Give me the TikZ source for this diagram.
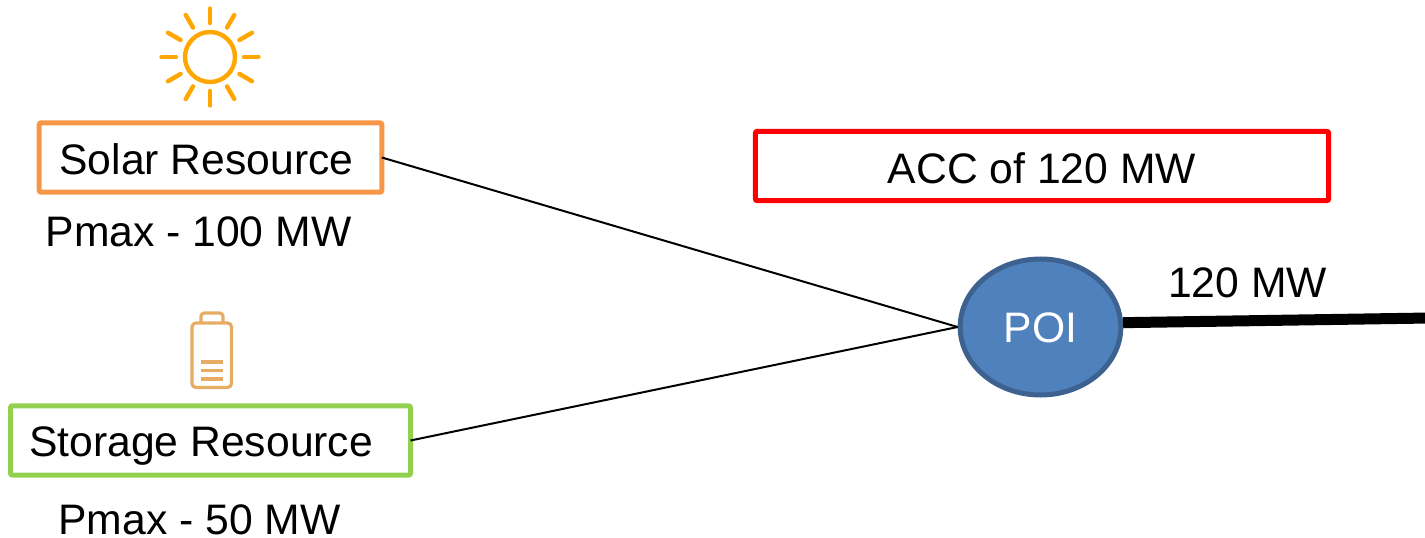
\documentclass[tikz,border=0pt]{standalone}
\usepackage{fontspec}
\setmainfont{Liberation Sans}
\definecolor{solarcol}{HTML}{F79646}
\definecolor{storagecol}{HTML}{92D050}
\definecolor{suncol}{HTML}{FFA600}
\definecolor{battcol}{HTML}{E6AC64}
\definecolor{poifill}{HTML}{4F81BD}
\definecolor{poiline}{HTML}{3E6290}
\usetikzlibrary{shapes.geometric}
\tikzset{
    resbox/.style={draw,line width=3.75pt,rounded corners=1.5pt,inner sep=0pt,outer sep=0pt,minimum height=52pt,text height=26pt,text depth=0pt},
    lbl/.style={inner sep=0pt,anchor=base},
}
\begin{document}
\begin{tikzpicture}[x=0.75pt,y=-0.75pt,font=\fontsize{32}{36}\selectfont]
    \useasboundingbox (0,0) rectangle (1425,538);

    % sun
    \begin{scope}[shift={(210,57)},draw=suncol,line cap=round,line width=3.3pt]
        \draw (0,0) circle (25);
        \foreach \ang in {0,30,...,330}
            \draw (\ang:34) -- (\ang:48.5);
    \end{scope}
    % battery
    \begin{scope}[shift={(192,313)},draw=battcol,line width=2.4pt]
        \draw[rounded corners=3pt] (0,10) rectangle (39.5,74.5);
        \draw[rounded corners=2.5pt] (9,10) -- (9,0) -- (31,0) -- (31,10);
        \draw[line width=2.6pt] (9,49) -- (31,49);
        \draw[line width=2.6pt] (9,57.5) -- (31,57.5);
        \draw[line width=2.6pt] (9,66) -- (31,66);
    \end{scope}

    \node[resbox,draw=solarcol,minimum width=257pt] (solar) at (210.5,157.5) {Solar Resource\hspace*{6pt}};
    \node[resbox,draw=storagecol,minimum width=300pt] (storage) at (210.5,440.5) {\raisebox{1pt}{Storage Resource}\hspace*{14pt}};
    \node[resbox,draw=red,minimum width=430pt] (acc) at (1042,166) {ACC of 120 MW};
    \node[ellipse,draw=poiline,fill=poifill,line width=3.75pt,text=white,inner sep=0pt,
        minimum width=120.5pt,minimum height=102pt,text height=24pt,text depth=0pt] (poi) at (1040.5,327) {POI};

    \node[lbl] (solarmax) at (198.5,247) {Pmax - 100 MW};
    \node[lbl] (storagemax) at (199.5,534) {Pmax - 50 MW};
    \node[lbl] (flow) at (1247.5,298) {120 MW};

    \coordinate (gridend) at (1430,318);
    \draw[line width=1.5pt] (solar.east) -- (poi.west);
    \draw[line width=1.5pt] (storage.east) -- (poi.west);
    \draw[line width=8.25pt] (poi.3) -- (gridend);
\end{tikzpicture}
\end{document}
